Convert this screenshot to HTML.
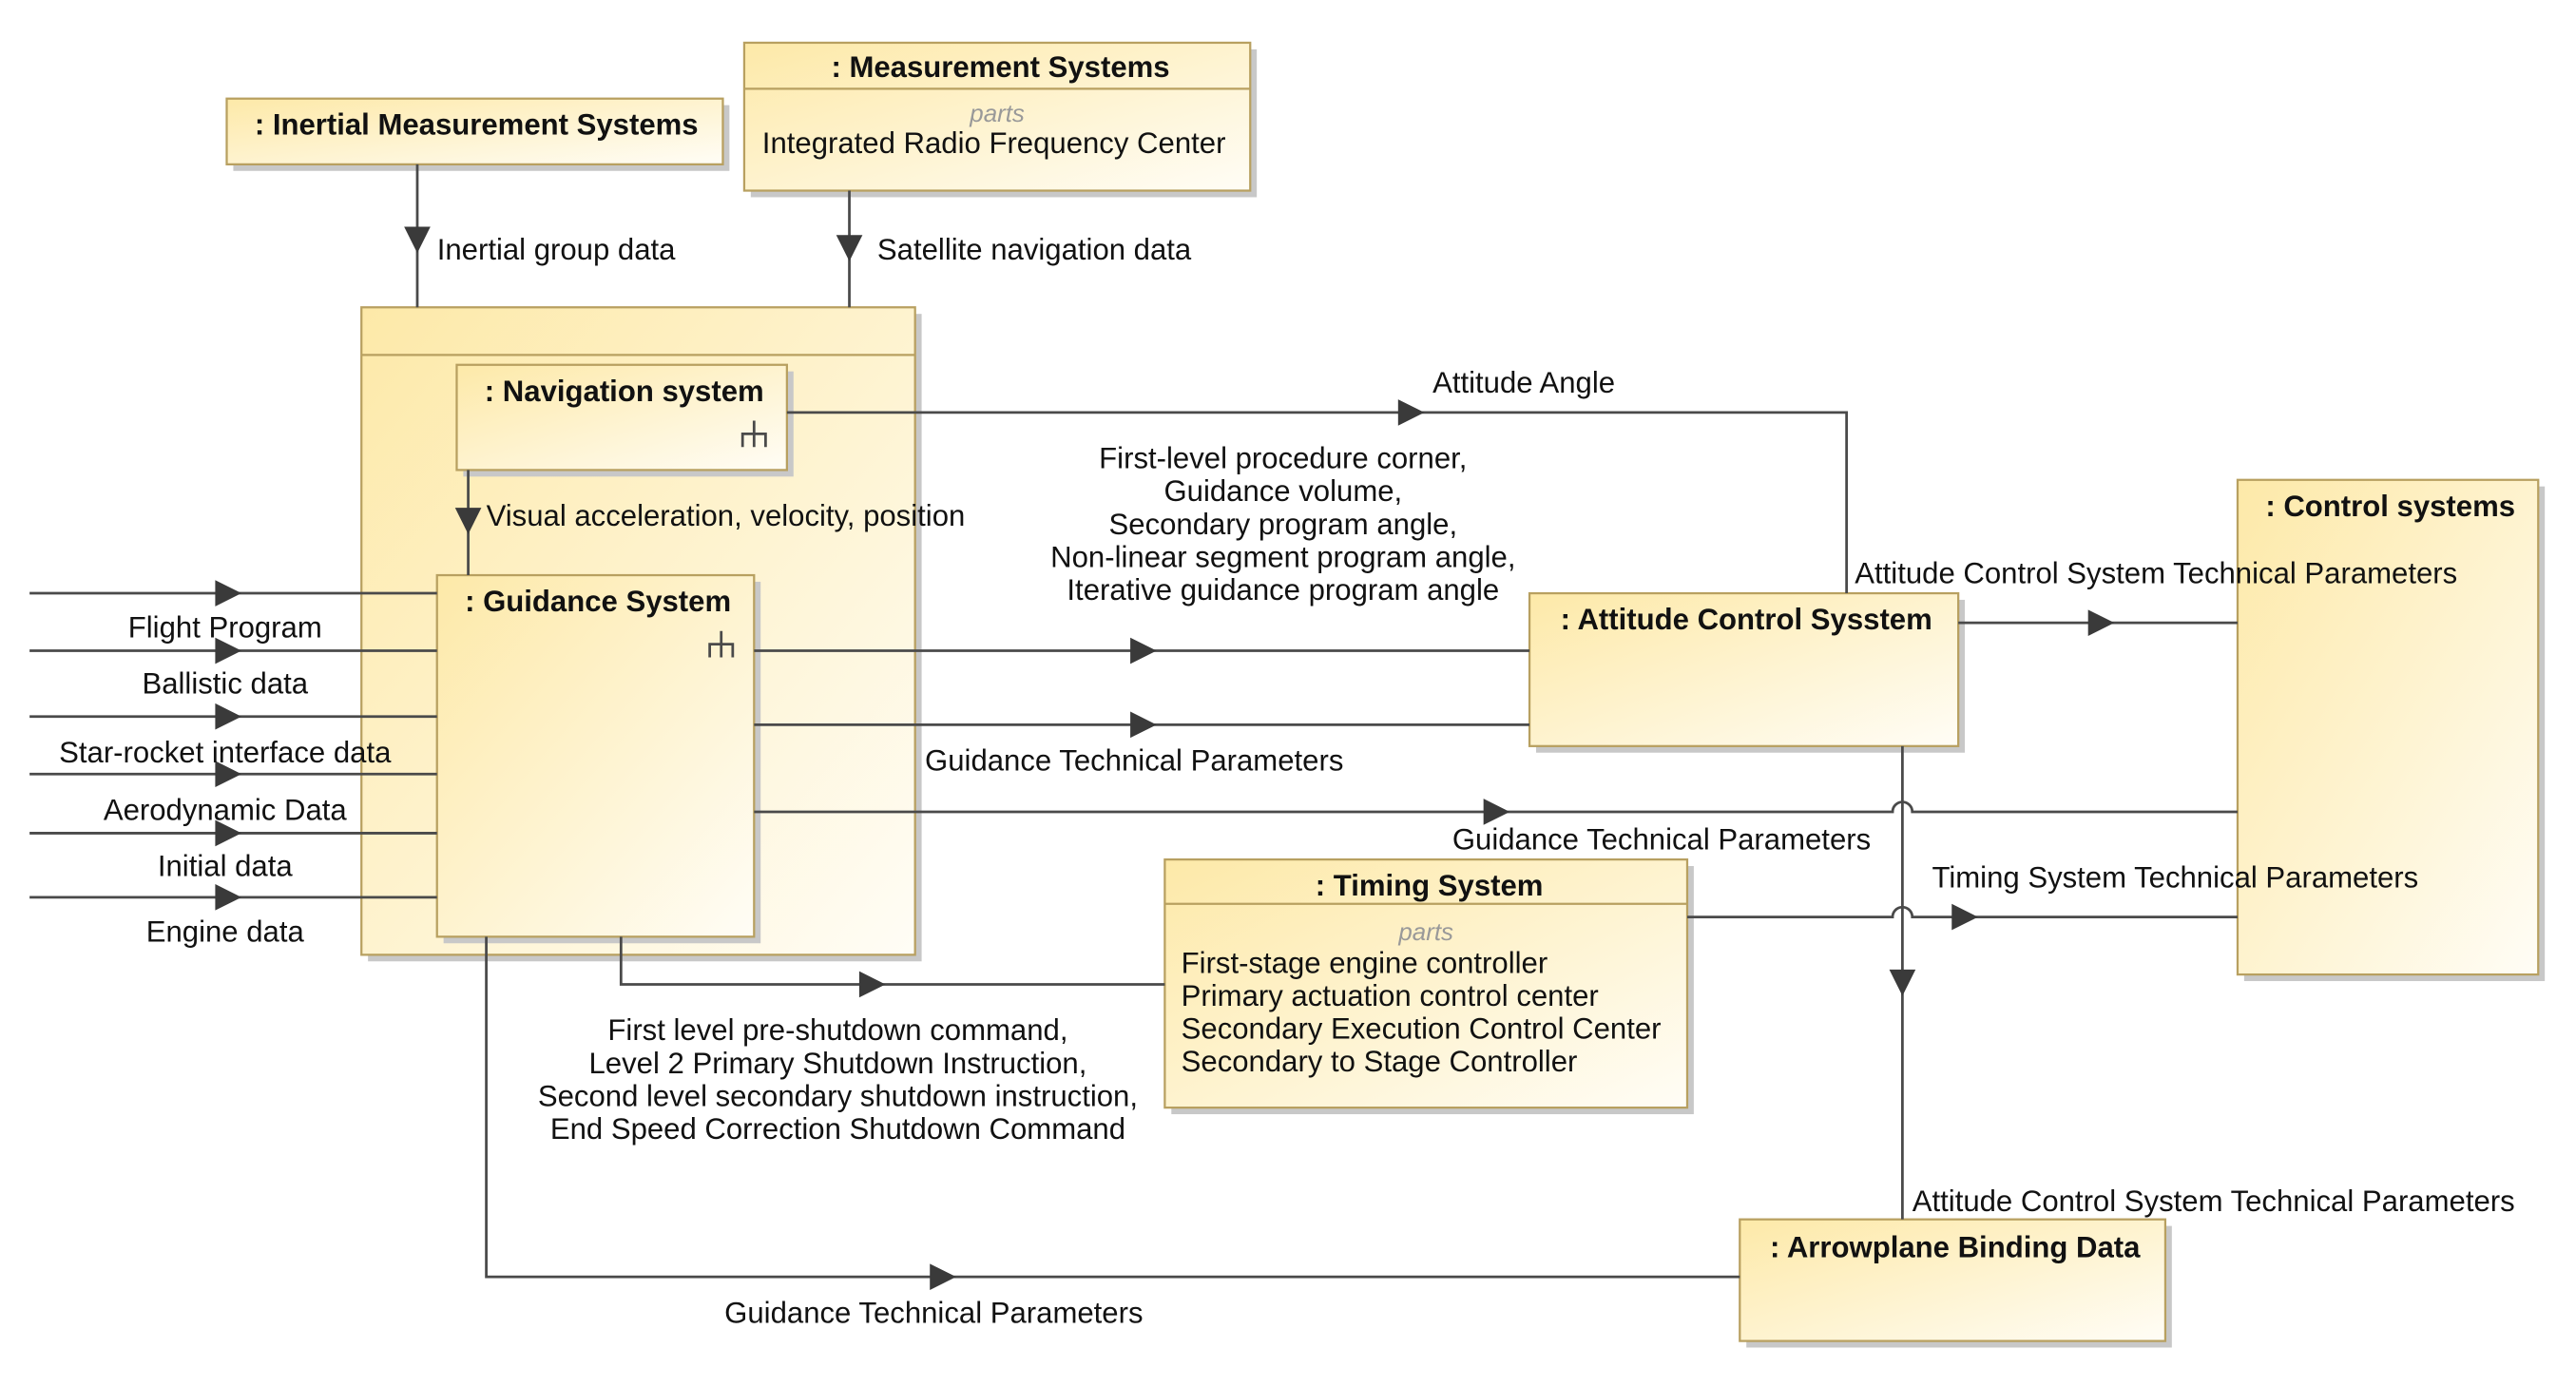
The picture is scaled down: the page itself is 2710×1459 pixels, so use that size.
<!DOCTYPE html>
<html><head><meta charset="utf-8"><style>
html,body{margin:0;padding:0;background:#fff;}
svg{display:block;}
text{font-family:"Liberation Sans",sans-serif;font-size:18px;fill:#111;}
.b{font-weight:bold;}
.p{font-style:italic;fill:#999;font-size:15px;}
.l{stroke:#4a4a4a;stroke-width:1.6;fill:none;}
.box{stroke:#b8a060;stroke-width:1.3;fill:url(#g);}
.sh{fill:#c8c8c8;}
.a{fill:#3a3a3a;}
</style></head><body>
<svg width="2710" height="1459" viewBox="0 0 1568 844" preserveAspectRatio="none" xmlns="http://www.w3.org/2000/svg">
<defs>
<linearGradient id="g" x1="0" y1="0" x2="1" y2="1">
<stop offset="0" stop-color="#fde9a8"/><stop offset="1" stop-color="#fffdf6"/>
</linearGradient>
</defs>
<rect class="sh" x="142" y="64" width="302" height="40"/>
<rect class="sh" x="457" y="30" width="308" height="90"/>
<rect class="sh" x="224" y="191" width="337" height="394"/>
<rect class="sh" x="935" y="365" width="261" height="93"/>
<rect class="sh" x="1366" y="296" width="183" height="301"/>
<rect class="sh" x="713" y="527" width="318" height="151"/>
<rect class="sh" x="1063" y="746" width="259" height="74"/>
<rect class="box" x="138" y="60" width="302" height="40"/>
<text class="b" x="290" y="82" text-anchor="middle">: Inertial Measurement Systems</text>
<rect class="box" x="453" y="26" width="308" height="90"/>
<line x1="453" y1="54" x2="761" y2="54" stroke="#b8a060" stroke-width="1.3"/>
<text class="b" x="609" y="47" text-anchor="middle">: Measurement Systems</text>
<text class="p" x="607" y="74" text-anchor="middle">parts</text>
<text x="605" y="93" text-anchor="middle">Integrated Radio Frequency Center</text>
<rect class="box" x="220" y="187" width="337" height="394"/>
<line x1="220" y1="216" x2="557" y2="216" stroke="#b8a060" stroke-width="1.3"/>
<rect class="sh" x="282" y="226" width="201" height="64"/>
<rect class="box" x="278" y="222" width="201" height="64"/>
<text class="b" x="380" y="244" text-anchor="middle">: Navigation system</text>
<rect class="sh" x="270" y="354" width="193" height="220"/>
<rect class="box" x="266" y="350" width="193" height="220"/>
<text class="b" x="364" y="372" text-anchor="middle">: Guidance System</text>
<path class="l" d="M459 256v16M452 272v-8h14v8" stroke="#333" stroke-width="2"/>
<path class="l" d="M439 384v16M432 400v-8h14v8" stroke="#333" stroke-width="2"/>
<rect class="box" x="931" y="361" width="261" height="93"/>
<text class="b" x="1063" y="383" text-anchor="middle">: Attitude Control Sysstem</text>
<rect class="box" x="1362" y="292" width="183" height="301"/>
<text class="b" x="1455" y="314" text-anchor="middle">: Control systems</text>
<rect class="box" x="709" y="523" width="318" height="151"/>
<line x1="709" y1="550" x2="1027" y2="550" stroke="#b8a060" stroke-width="1.3"/>
<text class="b" x="870" y="545" text-anchor="middle">: Timing System</text>
<text class="p" x="868" y="572" text-anchor="middle">parts</text>
<text x="719" y="592">First-stage engine controller</text>
<text x="719" y="612">Primary actuation control center</text>
<text x="719" y="632">Secondary Execution Control Center</text>
<text x="719" y="652">Secondary to Stage Controller</text>
<rect class="box" x="1059" y="742" width="259" height="74"/>
<text class="b" x="1190" y="765" text-anchor="middle">: Arrowplane Binding Data</text>
<path class="l" d="M254 100V187"/><path class="a" d="M246 138h16l-8 16z"/>
<text x="266" y="158">Inertial group data</text>
<path class="l" d="M517 116V187"/><path class="a" d="M509 143h16l-8 16z"/>
<text x="534" y="158">Satellite navigation data</text>
<path class="l" d="M479 251H1124V361"/><path class="a" d="M851 243v16l16-8z"/>
<text x="872" y="239">Attitude Angle</text>
<path class="l" d="M285 286V350"/><path class="a" d="M277 309h16l-8 16z"/>
<text x="296" y="320">Visual acceleration, velocity, position</text>
<path class="l" d="M18 361H266M18 396H266M18 436H266M18 471H266M18 507H266M18 546H266"/>
<path class="a" d="M131 353v16l16-8zM131 388v16l16-8zM131 428v16l16-8zM131 463v16l16-8zM131 499v16l16-8zM131 538v16l16-8z"/>
<text x="137" y="388" text-anchor="middle">Flight Program</text>
<text x="137" y="422" text-anchor="middle">Ballistic data</text>
<text x="137" y="464" text-anchor="middle">Star-rocket interface data</text>
<text x="137" y="499" text-anchor="middle">Aerodynamic Data</text>
<text x="137" y="533" text-anchor="middle">Initial data</text>
<text x="137" y="573" text-anchor="middle">Engine data</text>
<path class="l" d="M459 396H931"/><path class="a" d="M688 388v16l16-8z"/>
<text x="781" y="285" text-anchor="middle">First-level procedure corner,</text>
<text x="781" y="305" text-anchor="middle">Guidance volume,</text>
<text x="781" y="325" text-anchor="middle">Secondary program angle,</text>
<text x="781" y="345" text-anchor="middle">Non-linear segment program angle,</text>
<text x="781" y="365" text-anchor="middle">Iterative guidance program angle</text>
<path class="l" d="M459 441H931"/><path class="a" d="M688 433v16l16-8z"/>
<text x="563" y="469">Guidance Technical Parameters</text>
<path class="l" d="M459 494H1152a6 6 0 0 1 12 0H1362"/><path class="a" d="M903 486v16l16-8z"/>
<text x="884" y="517">Guidance Technical Parameters</text>
<path class="l" d="M1192 379H1362"/><path class="a" d="M1271 371v16l16-8z"/>
<text x="1129" y="355">Attitude Control System Technical Parameters</text>
<path class="l" d="M1158 454V742"/><path class="a" d="M1150 590h16l-8 16z"/>
<text x="1164" y="737">Attitude Control System Technical Parameters</text>
<path class="l" d="M1027 558H1152a6 6 0 0 1 12 0H1362"/><path class="a" d="M1188 550v16l16-8z"/>
<text x="1176" y="540">Timing System Technical Parameters</text>
<path class="l" d="M378 570V599H709"/><path class="a" d="M523 591v16l16-8z"/>
<text x="510" y="633" text-anchor="middle">First level pre-shutdown command,</text>
<text x="510" y="653" text-anchor="middle">Level 2 Primary Shutdown Instruction,</text>
<text x="510" y="673" text-anchor="middle">Second level secondary shutdown instruction,</text>
<text x="510" y="693" text-anchor="middle">End Speed Correction Shutdown Command</text>
<path class="l" d="M296 570V777H1059"/><path class="a" d="M566 769v16l16-8z"/>
<text x="441" y="805">Guidance Technical Parameters</text>
</svg>
</body></html>
